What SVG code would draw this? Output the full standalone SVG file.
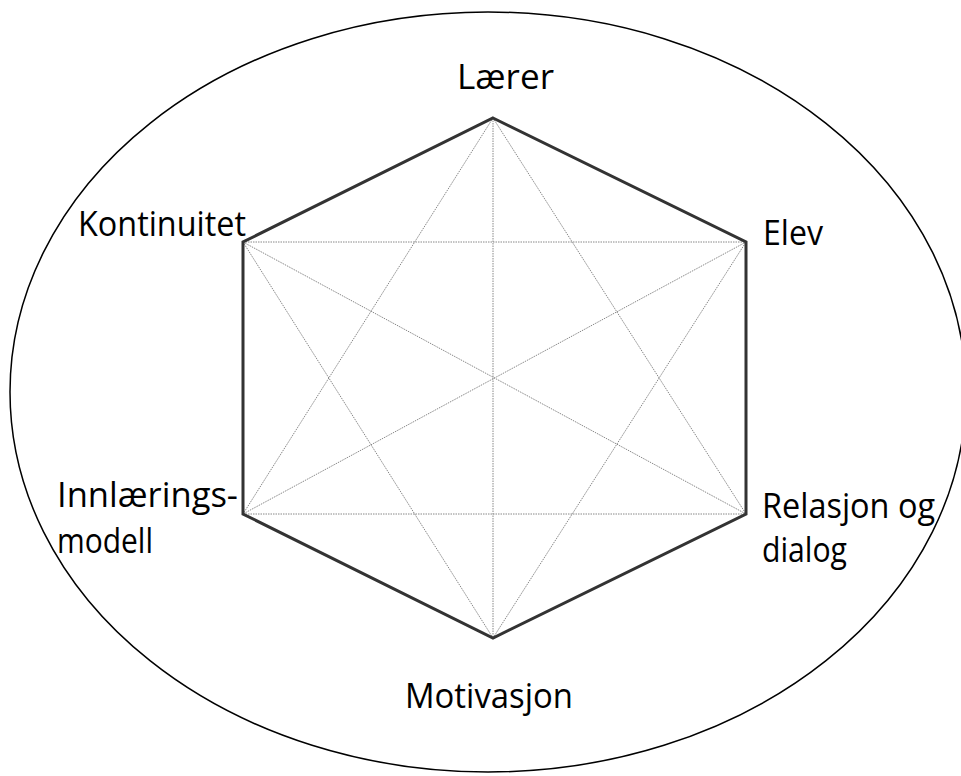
<svg xmlns="http://www.w3.org/2000/svg" width="961" height="776" viewBox="0 0 961 776">
<style>
.lbl{font-family:"Comic Sans MS","Open Sans","Liberation Sans",sans-serif;font-size:34px;fill:#000}
.edge{stroke:#333;stroke-width:3;fill:none;stroke-linejoin:miter}
.diag{stroke:#888;stroke-width:1;stroke-dasharray:1.5 1;fill:none}
</style>
<rect width="961" height="776" fill="#fff"/>
<ellipse id="outer" cx="488" cy="392" rx="478" ry="380" fill="none" stroke="#000" stroke-width="1.5"/>
<g id="connectors">
<line class="diag" x1="493" y1="118" x2="493" y2="638"/>
<line class="diag" x1="243" y1="242" x2="746" y2="242"/>
<line class="diag" x1="243" y1="514" x2="746" y2="514"/>
<line class="diag" x1="243" y1="242" x2="746" y2="514"/>
<line class="diag" x1="746" y1="242" x2="243" y2="514"/>
<line class="diag" x1="493" y1="118" x2="243" y2="514"/>
<line class="diag" x1="493" y1="118" x2="746" y2="514"/>
<line class="diag" x1="493" y1="638" x2="243" y2="242"/>
<line class="diag" x1="493" y1="638" x2="746" y2="242"/>
<polygon class="edge" points="493,118 746,242 746,514 493,638 243,514 243,242"/>
</g>
<g id="laerer"><text class="lbl" x="457" y="89" textLength="97" lengthAdjust="spacingAndGlyphs">Lærer</text></g>
<g id="elev"><text class="lbl" x="763" y="245" textLength="60" lengthAdjust="spacingAndGlyphs">Elev</text></g>
<g id="kontinuitet"><text class="lbl" x="78" y="236" textLength="168" lengthAdjust="spacingAndGlyphs">Kontinuitet</text></g>
<g id="innlaering"><text class="lbl" x="57" y="507" textLength="181" lengthAdjust="spacingAndGlyphs">Innlærings-</text><text class="lbl" x="57" y="553" textLength="96" lengthAdjust="spacingAndGlyphs">modell</text></g>
<g id="relasjon"><text class="lbl" x="762" y="518" textLength="173" lengthAdjust="spacingAndGlyphs">Relasjon og</text><text class="lbl" x="762" y="562" textLength="85" lengthAdjust="spacingAndGlyphs">dialog</text></g>
<g id="motivasjon"><text class="lbl" x="405" y="708" textLength="168" lengthAdjust="spacingAndGlyphs">Motivasjon</text></g>
</svg>
